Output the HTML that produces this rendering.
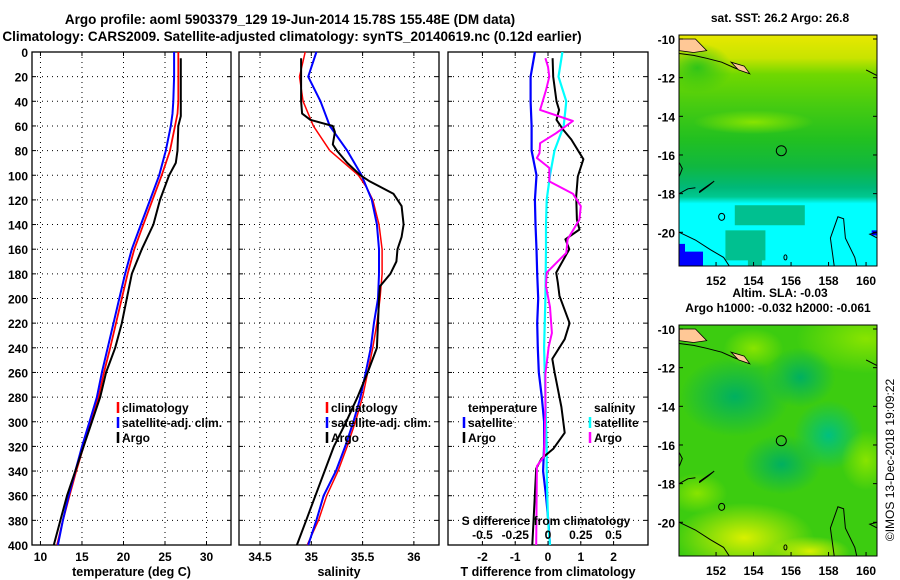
<!DOCTYPE html>
<html><head><meta charset="utf-8"><style>
html,body{margin:0;padding:0;background:#fff;}
svg{display:block;font-family:"Liberation Sans",sans-serif;font-weight:bold;}
</style></head><body>
<svg id="fig" width="900" height="580" viewBox="0 0 900 580" xmlns="http://www.w3.org/2000/svg">
<defs>
<linearGradient id="sstg" x1="0" y1="0" x2="0" y2="1">
<stop offset="0" stop-color="#e8e800"/><stop offset="0.1" stop-color="#c8e400"/><stop offset="0.17" stop-color="#70d800"/>
<stop offset="0.3" stop-color="#48cc10"/><stop offset="0.45" stop-color="#22c020"/><stop offset="0.57" stop-color="#10b840"/>
<stop offset="0.66" stop-color="#00b878"/><stop offset="0.7" stop-color="#00c890"/><stop offset="0.73" stop-color="#00ffff"/><stop offset="1" stop-color="#00ffff"/>
</linearGradient>
<radialGradient id="blob1"><stop offset="0" stop-color="#00b060"/><stop offset="1" stop-color="#00b060" stop-opacity="0"/></radialGradient>
<radialGradient id="blob2"><stop offset="0" stop-color="#00c080"/><stop offset="1" stop-color="#00c080" stop-opacity="0"/></radialGradient>
<radialGradient id="yel"><stop offset="0" stop-color="#d8f000"/><stop offset="1" stop-color="#d8f000" stop-opacity="0"/></radialGradient>
<radialGradient id="lg"><stop offset="0" stop-color="#88e400"/><stop offset="1" stop-color="#88e400" stop-opacity="0"/></radialGradient>
<radialGradient id="grn"><stop offset="0" stop-color="#30c418"/><stop offset="1" stop-color="#30c418" stop-opacity="0"/></radialGradient>
<clipPath id="c1"><rect x="679" y="35" width="198" height="231"/></clipPath>
<clipPath id="c2"><rect x="679" y="325" width="198" height="231"/></clipPath>
</defs>
<text x="290" y="24" text-anchor="middle" font-size="13.5">Argo profile: aoml 5903379_129 19-Jun-2014 15.78S 155.48E (DM data)</text>
<text x="292" y="41" text-anchor="middle" font-size="13.5">Climatology: CARS2009. Satellite-adjusted climatology: synTS_20140619.nc (0.12d earlier)</text>
<g id="maps"></g>
<g id="panels"></g>
<text transform="translate(894,460) rotate(-90)" text-anchor="middle" font-size="12" font-weight="normal">©IMOS 13-Dec-2018 19:09:22</text>
</svg>
<script>
// ---- profile data ----
const depthTicks=[0,20,40,60,80,100,120,140,160,180,200,220,240,260,280,300,320,340,360,380,400];
const tempTicks=[10,15,20,25,30];
const salTicks=[34.5,35,35.5,36];
const tdiffTicks=[-2,-1,0,1,2];
const sdiffTicks=[-0.5,-0.25,0,0.25,0.5];
const sdiffTickLabels=["-0.5","-0.25","0","0.25","0.5"];

const climDepth=[0,20,40,50,60,80,100,120,140,160,180,200,220,240,260,280,300,320,340,360,380,400];
const tempClim=[26.6,26.6,26.6,26.5,26.2,25.6,24.6,23.5,22.4,21.3,20.5,19.8,19.1,18.4,17.65,17.0,16.1,15.2,14.3,13.5,12.7,12.0];
const tempSat=[26.1,26.1,26.0,25.9,25.7,25.1,24.3,23.2,22.1,21.0,20.2,19.5,18.8,18.1,17.4,16.8,15.9,15.0,14.2,13.4,12.7,12.1];
const argoDepthT=[5,20,40,52,60,80,90,100,120,140,160,180,200,220,240,260,280,300,320,340,360,380,400];
const tempArgo=[26.9,26.9,26.9,26.9,26.6,26.5,26.3,25.5,24.4,23.6,22.2,21.0,20.4,19.8,19.0,17.9,17.2,16.2,15.2,14.2,13.2,12.4,11.6];

const salDepth=[0,20,40,60,80,100,110,120,140,160,180,200,220,240,260,280,300,320,340,360,380,400];
const salClim=[34.94,34.885,34.92,35.02,35.18,35.46,35.54,35.60,35.66,35.69,35.69,35.67,35.64,35.60,35.55,35.50,35.43,35.35,35.26,35.15,35.07,34.96];
const salSat=[35.05,34.97,35.09,35.18,35.35,35.49,35.54,35.59,35.64,35.66,35.66,35.65,35.61,35.58,35.53,35.48,35.41,35.33,35.24,35.12,35.05,34.97];
const argoDepthS=[5,20,40,50,55,60,65,75,80,90,100,105,115,125,140,150,160,170,180,190,200,220,240,260,280,300,320,340,360,380,400];
const salArgo=[34.90,34.90,34.90,34.91,34.99,35.21,35.23,35.21,35.25,35.35,35.48,35.57,35.80,35.88,35.90,35.88,35.84,35.83,35.77,35.67,35.66,35.65,35.64,35.55,35.45,35.34,35.22,35.13,35.04,34.95,34.86];

const tdDepthSat=[0,20,40,60,80,100,120,140,160,180,200,220,240,260,280,300,320,340,360,380,400];
const tdiffSat=[-0.40,-0.53,-0.53,-0.50,-0.50,-0.35,-0.40,-0.38,-0.35,-0.33,-0.30,-0.33,-0.31,-0.28,-0.19,-0.12,-0.12,-0.15,-0.06,0.01,0.06];
const tdDepthArgo=[5,20,40,47,55,63,71,87,101,117,136,144,152,160,179,187,198,220,233,249,260,288,309,322,330,338,400];
const tdiffArgo=[0.14,0.16,0.26,0.34,0.26,0.46,0.71,1.08,0.91,0.86,0.88,0.96,0.53,0.65,0.25,0.30,0.35,0.66,0.51,0.13,0.20,0.41,0.51,0.16,-0.20,-0.36,-0.48];
const sdDepthSat=[0,20,40,60,80,100,120,140,160,200,240,280,300,320,340,360,380,400];
const sdiffSat=[0.11,0.08,0.14,0.12,0.05,0.015,-0.01,-0.015,-0.015,-0.02,-0.03,-0.02,-0.015,-0.01,-0.01,-0.005,0.0,0.015];
const sdDepthArgo=[5,12,20,31,47,56,66,74,82,86,94,105,115,125,136,152,163,179,190,207,228,239,261,288,328,336,400];
const sdiffArgo=[-0.02,0.0,0.01,-0.015,-0.06,0.19,0.06,-0.06,-0.065,-0.085,0.01,0.01,0.19,0.25,0.24,0.15,0.14,-0.01,-0.015,0.015,0.03,0.005,-0.02,-0.02,-0.03,-0.085,-0.09];

const NS="http://www.w3.org/2000/svg";
function mk(tag,attrs,parent){const e=document.createElementNS(NS,tag);for(const k in attrs)e.setAttribute(k,attrs[k]);parent.appendChild(e);return e;}
const TOP=52,BOT=545;
const yD=d=>TOP+(d/400)*(BOT-TOP);
const panels=document.getElementById('panels');

function panel(name,x0,x1,vmin,vmax,ticks,tickLabels,xlabel){
  const g=mk('g',{},panels);
  
  
  const xf=v=>x0+(v-vmin)/(vmax-vmin)*(x1-x0);
  depthTicks.forEach(d=>{
    if(d>0&&d<400){const l=mk('line',{x1:x0,x2:x1,y1:yD(d),y2:yD(d),stroke:'#000','stroke-width':1,'stroke-dasharray':'1,4'},g);
    }
    mk('line',{x1:x0,x2:x0+4,y1:yD(d),y2:yD(d),stroke:'#000'},g);
    mk('line',{x1:x1-4,x2:x1,y1:yD(d),y2:yD(d),stroke:'#000'},g);
  });
  ticks.forEach((t,i)=>{
    const x=xf(t);
    const l=mk('line',{x1:x,x2:x,y1:TOP,y2:BOT,stroke:'#000','stroke-dasharray':'1,4'},g);
    
    mk('line',{x1:x,x2:x,y1:BOT-4,y2:BOT,stroke:'#000'},g);
    mk('line',{x1:x,x2:x,y1:TOP,y2:TOP+4,stroke:'#000'},g);
    const tx=mk('text',{x:x,y:BOT+16,'text-anchor':'middle','font-size':12},g);
    tx.textContent=tickLabels[i];
    
  });
  const r=mk('rect',{x:x0,y:TOP,width:x1-x0,height:BOT-TOP,fill:'none',stroke:'#000','stroke-width':1.3},g);
  
  const xl=mk('text',{x:(x0+x1)/2,y:576,'text-anchor':'middle','font-size':12.5},g);
  xl.textContent=xlabel;
  
  return {g,xf};
}
function line(p,name,depths,vals,xf,color,w){
  const pts=depths.map((d,i)=>xf(vals[i]).toFixed(1)+','+yD(d).toFixed(1)).join(' ');
  const pl=mk('polyline',{points:pts,fill:'none',stroke:color,'stroke-width':w,'stroke-linejoin':'round'},p.g);
  
  
}
function legendText(g,x,y,txt,color){
  if(color){const m=mk('line',{x1:x-4,x2:x-4,y1:y-10,y2:y+1,stroke:color,'stroke-width':2.5},g);
    }
  const t=mk('text',{x:x,y:y,'font-size':12},g);t.textContent=txt;
  
}

// temperature panel
const p1=panel('temperature-panel',32,231,8.98,32.95,tempTicks,tempTicks.map(String),'temperature (deg C)');
depthTicks.forEach(d=>{const t=mk('text',{x:28,y:yD(d)+5,'text-anchor':'end','font-size':12},p1.g);t.textContent=d;
  });
line(p1,'temp-climatology-line',climDepth,tempClim,p1.xf,'#ff0000',1.8);
line(p1,'temp-satellite-line',climDepth,tempSat,p1.xf,'#0000ff',2);
line(p1,'temp-argo-line',argoDepthT,tempArgo,p1.xf,'#000',2);
legendText(p1.g,122,412,'climatology','#ff0000');
legendText(p1.g,122,427,'satellite-adj. clim.','#0000ff');
legendText(p1.g,122,442,'Argo','#000');

// salinity panel
const p2=panel('salinity-panel',239,439,34.295,36.245,salTicks,salTicks.map(String),'salinity');
line(p2,'sal-climatology-line',salDepth,salClim,p2.xf,'#ff0000',1.5);
line(p2,'sal-satellite-line',salDepth,salSat,p2.xf,'#0000ff',2);
line(p2,'sal-argo-line',argoDepthS,salArgo,p2.xf,'#000',2);
legendText(p2.g,331,412,'climatology','#ff0000');
legendText(p2.g,331,427,'satellite-adj. clim.','#0000ff');
legendText(p2.g,331,442,'Argo','#000');

// difference panel
const p3=panel('difference-panel',448,648,-3.05,3.05,tdiffTicks,tdiffTicks.map(String),'T difference from climatology');
const sx=v=>548+v*131;
line(p3,'tdiff-satellite-line',tdDepthSat,tdiffSat,p3.xf,'#0000ff',2.2);
line(p3,'sdiff-satellite-line',sdDepthSat,sdiffSat,sx,'#00ffff',2.2);
line(p3,'tdiff-argo-line',tdDepthArgo,tdiffArgo,p3.xf,'#000',2);
line(p3,'sdiff-argo-line',sdDepthArgo,sdiffArgo,sx,'#ff00ff',2);
legendText(p3.g,468,412,'temperature',null);
legendText(p3.g,468,427,'satellite','#0000ff');
legendText(p3.g,468,442,'Argo','#000');
legendText(p3.g,594,412,'salinity',null);
legendText(p3.g,594,427,'satellite','#00ffff');
legendText(p3.g,594,442,'Argo','#ff00ff');
const st=mk('text',{x:546,y:525,'text-anchor':'middle','font-size':12},p3.g);st.textContent='S difference from climatology';

sdiffTicks.forEach((v,i)=>{const t=mk('text',{x:sx(v),y:539,'text-anchor':'middle','font-size':12},p3.g);t.textContent=sdiffTickLabels[i];
  });

// ---- maps ----
const lonTicks=[152,154,156,158,160];
const latTicks=[-10,-12,-14,-16,-18,-20];
const argoLon=155.48, argoLat=-15.78;
const maps=document.getElementById('maps');
function mapFrame(name,y0,clip){
  const g=mk('g',{},maps);
  
  
  const X=lon=>679.3+(lon-150.04)*18.75;
  const Y=lat=>y0+4+(-10-lat)*19.33;
  const c=mk('g',{'clip-path':'url(#'+clip+')'},g);
  return {g,c,X,Y,y0};
}
function finishMap(m,t1,t2){
  const g=m.g,X=m.X,Y=m.Y,y0=m.y0;
  const coasts=[
    [[150.04,-10.75],[150.8,-10.85],[151.5,-11.0],[152.3,-11.2],[153,-11.5],[153.7,-11.75]],
    [[150.04,-16.4],[150.2,-16.7],[150.04,-17.1]],
    [[150.04,-18.0],[150.5,-17.75],[150.9,-17.7]],
    [[151.1,-17.9],[151.9,-17.35],[151.6,-17.6],[151.1,-17.95]],
    [[150.04,-20.0],[150.9,-20.4],[151.7,-20.9],[152.4,-21.3],[152.7,-21.74]],
    [[158.3,-21.74],[158.1,-20.3],[158.5,-19.2],[158.8,-19.3],[158.9,-20.3],[159.4,-21.3],[159.5,-21.74]],
    [[160.6,-20.0],[160.2,-20.1],[160.6,-20.3]],
    [[160.0,-11.6],[160.4,-11.8],[160.6,-11.9]]
  ];
  coasts.forEach(cs=>{const p=mk('polyline',{points:cs.map(q=>X(q[0]).toFixed(1)+','+Y(q[1]).toFixed(1)).join(' '),fill:'none',stroke:'#000','stroke-width':1},m.c);
    });
  const land=mk('polygon',{points:[[150.04,-10],[150.9,-10],[151.5,-10.6],[150.8,-10.7],[150.04,-10.6]].map(q=>X(q[0])+','+Y(q[1])).join(' '),fill:'#ffc896',stroke:'#000','stroke-width':0.8},m.c);
  
  const land2=mk('polygon',{points:[[152.8,-11.2],[153.5,-11.4],[153.8,-11.8],[153.2,-11.6]].map(q=>X(q[0])+','+Y(q[1])).join(' '),fill:'#ffc896',stroke:'#000','stroke-width':0.8},m.c);
  
  mk('ellipse',{cx:X(152.3),cy:Y(-19.2),rx:3,ry:3.5,fill:'none',stroke:'#000'},m.c);
  mk('ellipse',{cx:X(155.7),cy:Y(-21.3),rx:1.5,ry:2.5,fill:'none',stroke:'#000'},m.c);
  const ci=mk('circle',{cx:X(argoLon),cy:Y(argoLat),r:5,fill:'none',stroke:'#000','stroke-width':1},g);
  
  const fr=mk('rect',{x:679,y:y0,width:198,height:231,fill:'none',stroke:'#000','stroke-width':1},g);
  
  lonTicks.forEach(l=>{mk('line',{x1:X(l),x2:X(l),y1:y0+231,y2:y0+227,stroke:'#000'},g);
    const t=mk('text',{x:X(l),y:y0+250,'text-anchor':'middle','font-size':12},g);t.textContent=l;
    });
  latTicks.forEach(l=>{mk('line',{x1:877,x2:873,y1:Y(l),y2:Y(l),stroke:'#000'},g);
    mk('line',{x1:679,x2:683,y1:Y(l),y2:Y(l),stroke:'#000'},g);
    const t=mk('text',{x:675,y:Y(l)+5,'text-anchor':'end','font-size':12},g);t.textContent=l;
    });
  const a=mk('text',{x:780,y:y0-(t2?28:13),'text-anchor':'middle','font-size':12},g);a.textContent=t1;
  
  if(t2){const b=mk('text',{x:778,y:y0-13,'text-anchor':'middle','font-size':12},g);b.textContent=t2;
    }
}
// SST map
const m1=mapFrame('sst-map',35,'c1');
let r=mk('rect',{x:679,y:35,width:198,height:231,fill:'url(#sstg)'},m1.c);

mk('ellipse',{cx:m1.X(151),cy:m1.Y(-11.5),rx:35,ry:25,fill:'url(#grn)'},m1.c);
mk('ellipse',{cx:m1.X(154),cy:m1.Y(-14.3),rx:60,ry:12,fill:'url(#lg)'},m1.c);
mk('rect',{x:m1.X(153),y:m1.Y(-18.6),width:70,height:20,fill:'#00c090'},m1.c);
mk('rect',{x:m1.X(152.5),y:m1.Y(-19.9),width:40,height:30,fill:'#00c090'},m1.c);
mk('rect',{x:m1.X(153.7),y:m1.Y(-20.5),width:14,height:40,fill:'#00c090'},m1.c);
mk('rect',{x:679,y:m1.Y(-20.6),width:6,height:40,fill:'#0000ff'},m1.c);
mk('rect',{x:679,y:m1.Y(-21.0),width:24,height:20,fill:'#0000ff'},m1.c);
mk('rect',{x:m1.X(160.3),y:m1.Y(-19.9),width:6,height:5,fill:'#0000ff'},m1.c);
finishMap(m1,'sat. SST: 26.2 Argo: 26.8',null);
// SLA map
const m2=mapFrame('sla-map',325,'c2');
r=mk('rect',{x:679,y:325,width:198,height:231,fill:'#3ccc10'},m2.c);

mk('ellipse',{cx:m2.X(160),cy:m2.Y(-10.5),rx:70,ry:35,fill:'url(#lg)'},m2.c);
mk('ellipse',{cx:m2.X(154),cy:m2.Y(-11),rx:30,ry:20,fill:'url(#lg)'},m2.c);
mk('ellipse',{cx:m2.X(153),cy:m2.Y(-13.5),rx:55,ry:40,fill:'url(#blob1)'},m2.c);
mk('ellipse',{cx:m2.X(156.5),cy:m2.Y(-12.5),rx:35,ry:30,fill:'url(#blob1)'},m2.c);
mk('ellipse',{cx:m2.X(158),cy:m2.Y(-15.5),rx:35,ry:35,fill:'url(#blob2)'},m2.c);
mk('ellipse',{cx:m2.X(155.5),cy:m2.Y(-17),rx:40,ry:30,fill:'url(#blob1)'},m2.c);
mk('ellipse',{cx:m2.X(153.5),cy:m2.Y(-20.8),rx:70,ry:35,fill:'url(#yel)'},m2.c);
mk('ellipse',{cx:m2.X(157),cy:m2.Y(-21.5),rx:40,ry:15,fill:'url(#yel)'},m2.c);
mk('ellipse',{cx:m2.X(151),cy:m2.Y(-18.5),rx:30,ry:20,fill:'url(#lg)'},m2.c);
mk('ellipse',{cx:m2.X(160),cy:m2.Y(-16.8),rx:25,ry:30,fill:'url(#lg)'},m2.c);
finishMap(m2,'Altim. SLA: -0.03','Argo h1000: -0.032 h2000: -0.061');
</script>
</body></html>
